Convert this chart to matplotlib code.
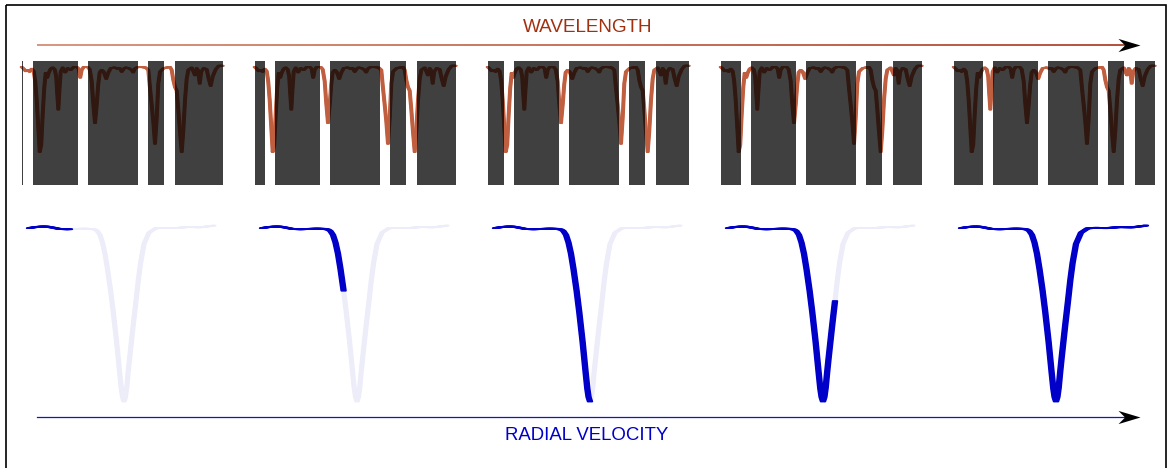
"""
Cross-correlation sketch: a line mask slid across a spectrum builds up the CCF.
"""

import numpy as np
import matplotlib
matplotlib.use("Agg")
import matplotlib.pyplot as plt
from matplotlib.transforms import ScaledTranslation
from matplotlib.collections import LineCollection
from matplotlib.path import Path

W, H, DPI = 1172, 468, 100

# spectrum (same in every panel), x in panel pixels, normalised flux
spec_x = [0, 2, 4, 6, 8, 10, 12, 13.5, 15, 16.5, 18, 19.5, 21, 22.5, 24, 25.5, 27, 29,
          31, 33, 34.5, 35.5, 36.6, 37.7, 39, 41, 43.5, 46, 49, 52, 55, 57, 58.5, 60,
          62, 66, 68, 70, 71.5, 73.3, 75, 76.5, 78, 80, 82, 84.5, 86.5, 89, 93, 96, 98,
          100, 102, 104, 107, 110, 111.5, 113, 116, 120, 124, 126.6, 128.3, 130, 131.6,
          133.3, 135, 136.6, 138.3, 140, 142, 145, 148.3, 150, 151.6, 153.3, 155, 156.6,
          158.3, 160, 161.6, 163.3, 165, 166.6, 170, 173.3, 175, 176.5, 178, 179.5, 182,
          185, 187, 189, 191, 194, 197, 201]
spec_flux = [1.0, 0.985, 0.965, 0.975, 0.96, 0.985, 0.965, 0.88, 0.72, 0.50, 0.28, 0.34,
             0.60, 0.82, 0.95, 0.91, 0.95, 0.985, 0.995, 0.98, 0.92, 0.78, 0.64, 0.80,
             0.96, 0.995, 0.955, 0.99, 0.975, 1.0, 1.0, 0.985, 0.91, 0.975, 1.0, 1.0,
             0.98, 0.88, 0.70, 0.525, 0.68, 0.85, 0.955, 0.975, 0.96, 0.90, 0.95, 0.99,
             0.995, 0.985, 0.99, 0.96, 0.985, 0.995, 0.99, 0.975, 0.955, 0.985, 1.0, 1.0,
             0.995, 0.975, 0.82, 0.68, 0.54, 0.35, 0.57, 0.86, 0.96, 0.975, 0.99, 0.995,
             1.0, 0.975, 0.89, 0.83, 0.80, 0.64, 0.45, 0.28, 0.46, 0.72, 0.90, 0.975,
             0.995, 0.93, 0.99, 0.97, 0.86, 0.96, 0.99, 0.98, 0.90, 0.84, 0.92, 0.98,
             1.01, 1.01]

# mask windows (unshifted) and the shift applied in each panel
mask_lo = [-45, 11.3, 66.3, 126.3, 153.3]
mask_hi = [1.3, 56.3, 116.3, 142.3, 260]
mask_shift = [0, 8.7, 14.7, 19.0, 28.4]

# cross-correlation function
ccf_rv = [0, 6, 12, 18, 24, 30, 36, 41, 48, 55, 62, 66, 68.3, 71, 73.5, 76, 78.5, 81.6,
          84.3, 87.6, 90.6, 92.3, 93.6, 95, 96.4, 97.7, 99, 100.6, 102.3, 104.2, 106,
          107, 109.3, 111.6, 115, 120, 126.6, 135, 145, 158.3, 171.6, 180, 185]
ccf_val = [1.001, 1.007, 1.010, 1.010, 1.004, 0.997, 0.995, 0.995, 0.997, 0.998, 0.997,
           0.993, 0.985, 0.962, 0.918, 0.853, 0.765, 0.64, 0.515, 0.345, 0.17, 0.075,
           0.025, 0.0, 0.025, 0.08, 0.16, 0.25, 0.34, 0.44, 0.53, 0.58, 0.70, 0.80, 0.91,
           0.975, 1.0, 1.003, 1.001, 1.007, 1.006, 1.012, 1.016]
# how far the CCF has been computed in each panel
ccf_done = [41, 81.6, 95, 107, 185]

top_left = [21.7, 254.7, 487.7, 720.7, 953.7]
bot_left = [29, 262, 495, 728, 961]

SPEC_COLOR = "#bf5f40"
BLUE = "#0000c8"
LAVENDER = "#ededfa"

fig = plt.figure(figsize=(W / DPI, H / DPI), dpi=DPI)


def px_axes(x, y, w, h):
    ax = fig.add_axes([x / W, 1 - (y + h) / H, w / W, h / H])
    ax.axis("off")
    return ax


def brush(ax, x, y, spread, lw, color, n=7, zorder=2):
    # horizontally smeared stroke: thin on flat parts, thick on steep parts
    for dx in np.linspace(-spread, spread, n):
        tr = ax.transData + ScaledTranslation(dx / DPI, 0, fig.dpi_scale_trans)
        ax.plot(x, y, transform=tr, color=color, lw=lw * 72 / DPI,
                solid_capstyle="round", solid_joinstyle="round",
                zorder=zorder, clip_on=False)


# background layer: frame, arrows, labels (pixel coordinates)
bg = fig.add_axes([0, 0, 1, 1])
bg.axis("off")
bg.set_xlim(0, W)
bg.set_ylim(H, 0)
bg.add_patch(plt.Rectangle((5.5, 4.5), 1160, 470, fill=False, lw=1.2, ec="black"))

head = Path([(0, 0), (-1, 0.3), (-0.7, 0), (-1, -0.3), (0, 0)],
            [Path.MOVETO, Path.LINETO, Path.LINETO, Path.LINETO, Path.CLOSEPOLY])

xs = np.linspace(37, 1126, 60)
segs = [[(xs[i], 44.5), (xs[i + 1], 44.5)] for i in range(len(xs) - 1)]
grad = np.linspace(0, 1, len(segs))[:, None]
cols = (1 - grad) * np.array([0.80, 0.47, 0.36]) + grad * np.array([0.63, 0.13, 0.0])
bg.add_collection(LineCollection(segs, colors=cols, linewidths=1.1))
bg.plot([1140], [44.5], marker=head, ms=31.7, color="black", mew=0)
bg.text(588, 28, "WAVELENGTH", ha="center", va="center", color="#a03010",
        fontsize=13.6, family=["Liberation Sans", "DejaVu Sans"])

bg.plot([37, 1126], [416.5, 416.5], color="#1414c0", lw=0.9)
bg.plot([1140], [416.5], marker=head, ms=31.7, color="black", mew=0)
bg.text(587, 436, "RADIAL VELOCITY", ha="center", va="center", color=BLUE,
        fontsize=13.4, family=["Liberation Sans", "DejaVu Sans"])

for i in range(5):
    # spectrum with the shifted mask on top
    ax = px_axes(top_left[i], 61, 201, 124)
    brush(ax, spec_x, spec_flux, 1.0, 2.0, SPEC_COLOR, n=5, zorder=1)
    for lo, hi in zip(mask_lo, mask_hi):
        ax.axvspan(lo + mask_shift[i], hi + mask_shift[i], color="black",
                   alpha=0.75, lw=0, zorder=2)
    ax.set_xlim(0, 201)
    ax.set_ylim(0, 1.051)

    # CCF: full curve faint, computed part in blue
    ax2 = px_axes(bot_left[i], 215, 185, 195)
    brush(ax2, ccf_rv, ccf_val, 1.8, 1.6, LAVENDER, zorder=1)
    rv = np.array(ccf_rv)
    done = rv <= ccf_done[i] + 1e-6
    brush(ax2, rv[done], np.array(ccf_val)[done], 2.3, 1.8, BLUE, zorder=2)
    ax2.set_xlim(0, 185)
    ax2.set_ylim(-0.049, 1.077)

fig.savefig("out.png", dpi=DPI)
